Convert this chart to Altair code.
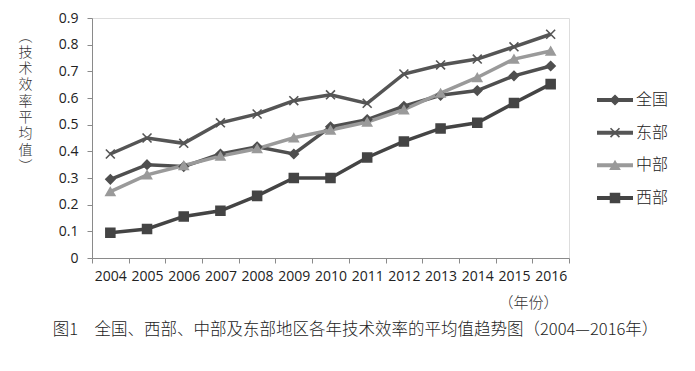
import altair as alt
import pandas as pd

years = [str(y) for y in range(2004, 2017)]
series_names = ["全国", "东部", "中部", "西部"]
quanguo = [0.295, 0.350, 0.343, 0.390, 0.417, 0.390, 0.492, 0.519, 0.569, 0.610, 0.628, 0.683, 0.720]
dongbu = [0.390, 0.450, 0.430, 0.507, 0.540, 0.590, 0.612, 0.580, 0.690, 0.724, 0.746, 0.792, 0.839]
zhongbu = [0.249, 0.312, 0.347, 0.382, 0.410, 0.451, 0.480, 0.510, 0.556, 0.618, 0.677, 0.746, 0.776]
xibu = [0.095, 0.109, 0.156, 0.177, 0.233, 0.300, 0.300, 0.377, 0.437, 0.486, 0.507, 0.581, 0.652]
y_ticks = [0, 0.1, 0.2, 0.3, 0.4, 0.5, 0.6, 0.7, 0.8, 0.9]

colors = ["#4f4f4f", "#555555", "#9a9a9a", "#444444"]
shapes = ["M0,-1L1,0L0,1L-1,0Z", "M-1,-1L1,1M-1,1L1,-1", "triangle-up", "square"]

rows = []
for name, vals in zip(series_names, [quanguo, dongbu, zhongbu, xibu]):
    for yr, v in zip(years, vals):
        rows.append({"year": yr, "series": name, "value": v})
df = pd.DataFrame(rows)
legend_df = pd.DataFrame({"series": series_names})

cjk = "Noto Sans CJK SC"
color_scale = alt.Scale(domain=series_names, range=colors)
shape_scale = alt.Scale(domain=series_names, range=shapes)

x_enc = alt.X(
    "year:O",
    scale=alt.Scale(type="band", paddingInner=0, paddingOuter=0, domain=years),
    bandPosition=0.5,
    axis=alt.Axis(
        title="（年份）", titleFont=cjk, titleFontWeight=300, titleFontSize=15,
        titleColor="#333", titleX=436, titleY=44, titleBaseline="middle",
        titleAlign="center", tickBand="extent", labelAngle=0,
        labelFont="Open Sans", labelFontSize=14, labelColor="#222",
        labelPadding=6, tickSize=5, tickColor="#8a8a8a", domainColor="#8a8a8a",
        labelFlush=False, labelOverlap=False,
    ),
)
y_enc = alt.Y(
    "value:Q",
    scale=alt.Scale(domain=[0, 0.9], nice=False),
    axis=alt.Axis(
        values=y_ticks, format=".1~f", grid=False, labelOverlap=False,
        title=["︵", "技", "术", "效", "率", "平", "均", "值", "︶"],
        titleAngle=0, titleFont=cjk, titleFontWeight=300, titleFontSize=14,
        titleColor="#333", titleX=-67, titleY=11, titleBaseline="top",
        titleAlign="center", titleLineHeight=16.3,
        labelFont="Open Sans", labelFontSize=14, labelColor="#222",
        labelPadding=9, tickSize=5, tickColor="#8a8a8a", domainColor="#8a8a8a",
    ),
)

lines = alt.Chart(df).mark_line(strokeWidth=3.5).encode(
    x=x_enc, y=y_enc,
    color=alt.Color("series:N", scale=color_scale, legend=None),
    order=alt.Order("year:O"),
)
points = alt.Chart(df).mark_point(filled=True, size=80, strokeWidth=1.6, opacity=1).encode(
    x=x_enc, y=y_enc,
    color=alt.Color("series:N", scale=color_scale, legend=None),
    stroke=alt.Stroke("series:N", scale=color_scale, legend=None),
    shape=alt.Shape("series:N", scale=shape_scale, legend=None),
)
main = alt.layer(lines, points)

ly = alt.Y("series:N", scale=alt.Scale(type="point", domain=series_names, range=[82, 180], padding=0), axis=None)
leg_rule = alt.Chart(legend_df).mark_rule(strokeWidth=4).encode(
    x=alt.value(505), x2=alt.value(541), y=ly,
    color=alt.Color("series:N", scale=color_scale, legend=None),
)
leg_pt = alt.Chart(legend_df).mark_point(filled=True, size=80, strokeWidth=1.6, opacity=1).encode(
    x=alt.value(523), y=ly,
    color=alt.Color("series:N", scale=color_scale, legend=None),
    stroke=alt.Stroke("series:N", scale=color_scale, legend=None),
    shape=alt.Shape("series:N", scale=shape_scale, legend=None),
)
leg_txt = alt.Chart(legend_df).mark_text(
    align="left", baseline="middle", font=cjk, fontSize=16, fontWeight=300, color="#222", dx=0
).encode(x=alt.value(544), y=ly, text="series:N")
legend = alt.layer(leg_rule, leg_pt, leg_txt)

chart = alt.layer(main, legend).resolve_scale(y="independent").properties(
    width=477, height=240,
    autosize=alt.AutoSizeParams(type="none"),
    padding={"left": 84, "top": 10, "right": 110, "bottom": 97},
    title=alt.TitleParams(
        text="图1　全国、西部、中部及东部地区各年技术效率的平均值趋势图（2004—2016年）",
        orient="bottom", anchor="middle", font=cjk, fontSize=16.5, fontWeight=300,
        color="#222", dx=25, offset=12,
    ),
).configure_view(stroke=None).configure(background="white")

chart.save("out.html", embed_options={"renderer": "svg", "actions": False})
